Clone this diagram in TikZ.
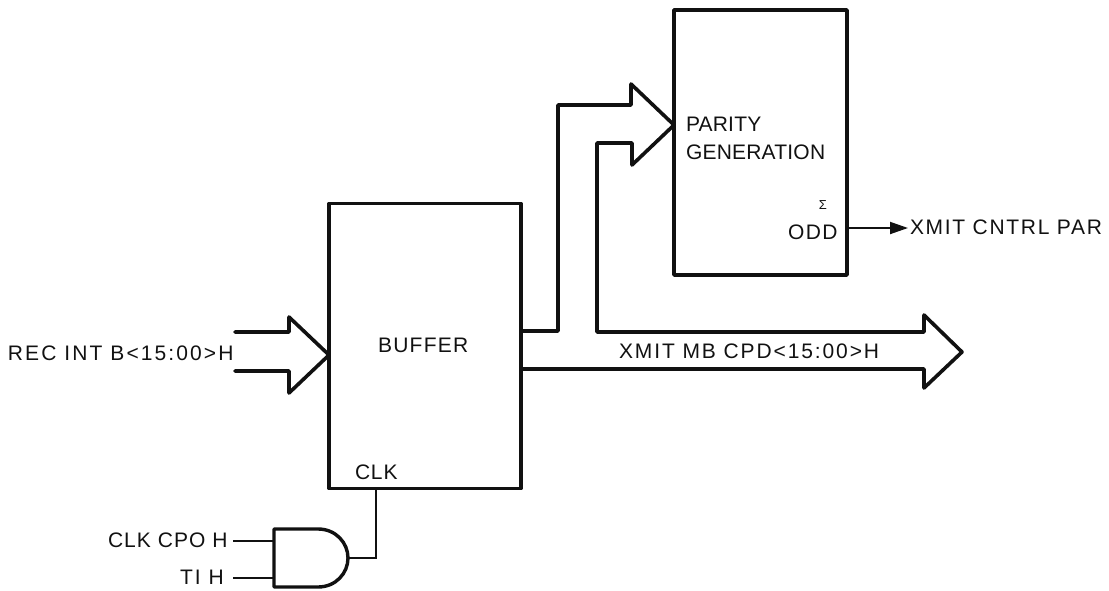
\documentclass[tikz,border=0pt]{standalone}
\usepackage{fontspec}
\setmainfont{Liberation Sans}
\usetikzlibrary{arrows.meta}
\definecolor{inkc}{HTML}{111111}
\tikzset{
  blockbox/.style={draw=inkc,line width=3.6pt,rectangle,minimum width=#1,inner sep=0pt,outer sep=0pt,line join=round},
  bus/.style={draw=inkc,line width=3.6pt,line join=round,line cap=round},
  wire/.style={draw=inkc,line width=1.9pt},
  gate/.style={draw=inkc,line width=3.4pt,line join=round},
  lbl/.style={font=\fontsize{21}{22}\selectfont\addfontfeature{LetterSpace=#1},text=inkc,inner sep=0pt,outer sep=0pt,anchor=west}
}
\begin{document}
\begin{tikzpicture}[x=1pt,y=-1pt]
\useasboundingbox (0,0) rectangle (1109,590);
\node[blockbox=173pt,minimum height=265pt] (parity) at (760.5,142.5) {};
\node[blockbox=192pt,minimum height=285pt] (buffer) at (425,346) {};
% upper bus into parity
\coordinate (ptip) at (parity.west |- 0,125);
\coordinate (oa) at (buffer.east |- 0,331);
\coordinate (ob) at (buffer.east |- 0,369);
\coordinate (itip) at (buffer.west |- 0,355);
\draw[bus] (oa) -- (558,331) -- (558,105) -- (631,105) -- (631,84) -- (ptip)
  -- (632,165) -- (632,143) -- (597,143) -- (597,332) -- (924,332) -- (924,315)
  -- (962,352) -- (924,388) -- (924,369) -- (ob);
\draw[bus] (235,332) -- (289,332) -- (289,317) -- (itip) -- (289,393) -- (289,371) -- (235,371);
% and gate
\coordinate (gtl) at (274,529);
\coordinate (gbl) at (274,587);
\coordinate (gout) at (348,558);
\draw[gate] (gtl) -- (318,529) .. controls (336,529) and (348,543) .. (gout)
  .. controls (348,573) and (336,587) .. (318,587) -- (gbl) -- cycle;
\coordinate (ga) at (274,541);
\coordinate (gb) at (274,578);
\node[lbl=5] (clkcpo) at (108,540) {CLK CPO H};
\node[lbl=10] (tih) at (180,577) {TI H};
\draw[wire] (233,541) -- (ga);
\draw[wire] (233,578) -- (gb);
\draw[wire] (gout) -- (376,558) -- (376,489);
% labels
\node[lbl=10] (rec) at (8,353) {REC INT B<15:00>H};
\node[lbl=9] (xmb) at (619,351) {XMIT MB CPD<15:00>H};
\node[lbl=1] (par) at (686,124) {PARITY};
\node[lbl=1] (gen) at (686,152) {GENERATION};
\node[lbl=6] (buf) at (378,345) {BUFFER};
\node[lbl=4] (clk) at (355,472) {CLK};
\node[font=\fontsize{13}{14}\selectfont,text=inkc,inner sep=0pt] (sig) at (823,205) {Σ};
\node[lbl=7] (odd) at (788,232) {ODD};
\node[lbl=8] (xpar) at (910,227) {XMIT CNTRL PAR};
\coordinate (xarr) at (908,228);
\draw[wire,-{Triangle[length=18pt,width=12pt]}] (parity.east |- xarr) -- (xarr);
\end{tikzpicture}
\end{document}
